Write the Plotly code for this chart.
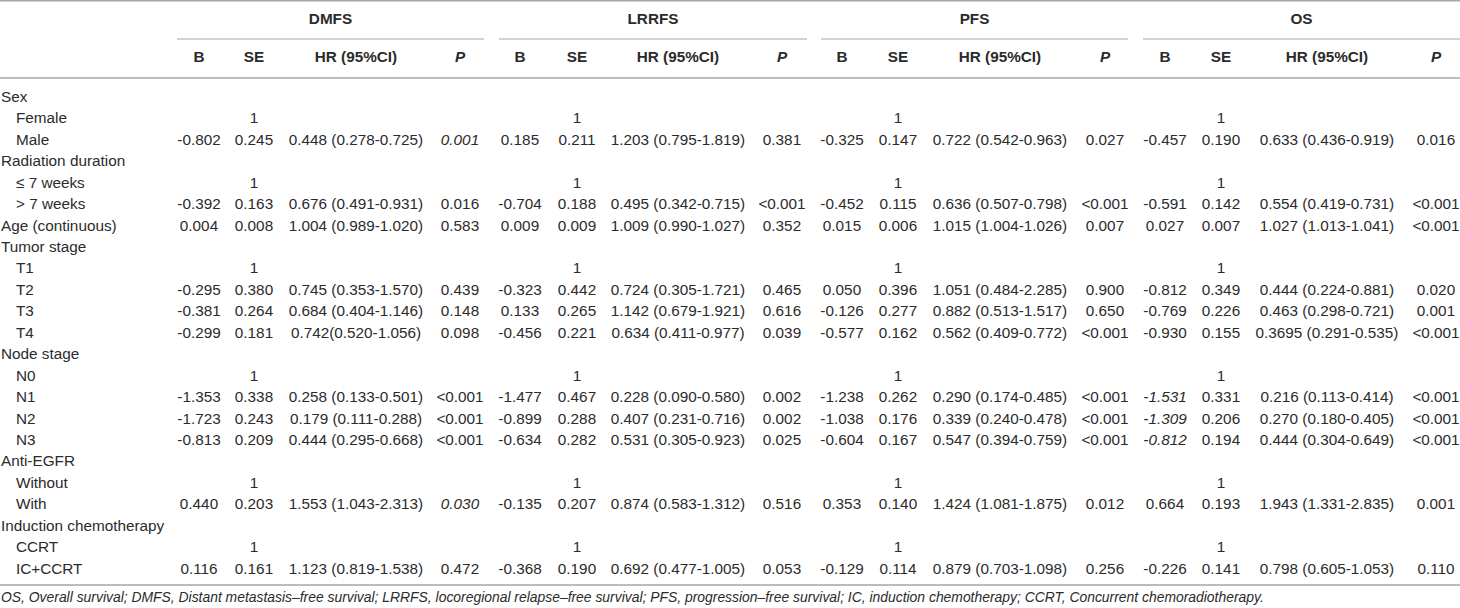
import plotly.graph_objs as go

# Row labels (indent=True for sub-categories)
labels = ['Sex', 'Female', 'Male', 'Radiation duration', '\u2264 7 weeks', '> 7 weeks', 'Age (continuous)',
          'Tumor stage', 'T1', 'T2', 'T3', 'T4', 'Node stage', 'N0', 'N1', 'N2', 'N3',
          'Anti-EGFR', 'Without', 'With', 'Induction chemotherapy', 'CCRT', 'IC+CCRT']
indent = [False, True, True, False, True, True, False,
          False, True, True, True, True, False, True, True, True, True,
          False, True, True, False, True, True]

endpoints = ['DMFS', 'LRRFS', 'PFS', 'OS']
sub_headers = ['B', 'SE', 'HR (95%CI)', '<i>P</i>']

# Rows with values (index into labels); reference rows get "1" in the SE column
value_rows = [2, 5, 6, 9, 10, 11, 14, 15, 16, 19, 22]
ref_rows = [1, 4, 8, 13, 18, 21]

dmfs_b = ['-0.802', '-0.392', '0.004', '-0.295', '-0.381', '-0.299', '-1.353', '-1.723', '-0.813', '0.440', '0.116']
dmfs_se = ['0.245', '0.163', '0.008', '0.380', '0.264', '0.181', '0.338', '0.243', '0.209', '0.203', '0.161']
dmfs_hr = ['0.448 (0.278-0.725)', '0.676 (0.491-0.931)', '1.004 (0.989-1.020)', '0.745 (0.353-1.570)',
           '0.684 (0.404-1.146)', '0.742(0.520-1.056)', '0.258 (0.133-0.501)', '0.179 (0.111-0.288)',
           '0.444 (0.295-0.668)', '1.553 (1.043-2.313)', '1.123 (0.819-1.538)']
dmfs_p = ['<i>0.001</i>', '0.016', '0.583', '0.439', '0.148', '0.098', '<0.001', '<0.001', '<0.001',
          '<i>0.030</i>', '0.472']

lrrfs_b = ['0.185', '-0.704', '0.009', '-0.323', '0.133', '-0.456', '-1.477', '-0.899', '-0.634', '-0.135', '-0.368']
lrrfs_se = ['0.211', '0.188', '0.009', '0.442', '0.265', '0.221', '0.467', '0.288', '0.282', '0.207', '0.190']
lrrfs_hr = ['1.203 (0.795-1.819)', '0.495 (0.342-0.715)', '1.009 (0.990-1.027)', '0.724 (0.305-1.721)',
            '1.142 (0.679-1.921)', '0.634 (0.411-0.977)', '0.228 (0.090-0.580)', '0.407 (0.231-0.716)',
            '0.531 (0.305-0.923)', '0.874 (0.583-1.312)', '0.692 (0.477-1.005)']
lrrfs_p = ['0.381', '<0.001', '0.352', '0.465', '0.616', '0.039', '0.002', '0.002', '0.025', '0.516', '0.053']

pfs_b = ['-0.325', '-0.452', '0.015', '0.050', '-0.126', '-0.577', '-1.238', '-1.038', '-0.604', '0.353', '-0.129']
pfs_se = ['0.147', '0.115', '0.006', '0.396', '0.277', '0.162', '0.262', '0.176', '0.167', '0.140', '0.114']
pfs_hr = ['0.722 (0.542-0.963)', '0.636 (0.507-0.798)', '1.015 (1.004-1.026)', '1.051 (0.484-2.285)',
          '0.882 (0.513-1.517)', '0.562 (0.409-0.772)', '0.290 (0.174-0.485)', '0.339 (0.240-0.478)',
          '0.547 (0.394-0.759)', '1.424 (1.081-1.875)', '0.879 (0.703-1.098)']
pfs_p = ['0.027', '<0.001', '0.007', '0.900', '0.650', '<0.001', '<0.001', '<0.001', '<0.001', '0.012', '0.256']

os_b = ['-0.457', '-0.591', '0.027', '-0.812', '-0.769', '-0.930', '<i>-1.531</i>', '<i>-1.309</i>',
        '<i>-0.812</i>', '0.664', '-0.226']
os_se = ['0.190', '0.142', '0.007', '0.349', '0.226', '0.155', '0.331', '0.206', '0.194', '0.193', '0.141']
os_hr = ['0.633 (0.436-0.919)', '0.554 (0.419-0.731)', '1.027 (1.013-1.041)', '0.444 (0.224-0.881)',
         '0.463 (0.298-0.721)', '0.3695 (0.291-0.535)', '0.216 (0.113-0.414)', '0.270 (0.180-0.405)',
         '0.444 (0.304-0.649)', '1.943 (1.331-2.835)', '0.798 (0.605-1.053)']
os_p = ['0.016', '<0.001', '<0.001', '0.020', '0.001', '<0.001', '<0.001', '<0.001', '<0.001', '0.001', '0.110']

footnote = ('OS, Overall survival; DMFS, Distant metastasis\u2013free survival; LRRFS, locoregional relapse\u2013free '
            'survival; PFS, progression\u2013free survival; IC, induction chemotherapy; CCRT, Concurrent '
            'chemoradiotherapy.')

columns = {
    'DMFS': [dmfs_b, dmfs_se, dmfs_hr, dmfs_p],
    'LRRFS': [lrrfs_b, lrrfs_se, lrrfs_hr, lrrfs_p],
    'PFS': [pfs_b, pfs_se, pfs_hr, pfs_p],
    'OS': [os_b, os_se, os_hr, os_p],
}

# Layout (pixel units)
W, H = 1460, 608
row0, row_step = 98, 21.45
col_x = {'DMFS': [199, 254, 356, 460], 'LRRFS': [520, 577, 678, 782],
         'PFS': [842, 898, 1000, 1105], 'OS': [1165, 1221, 1327, 1436]}
group_span = {'DMFS': (177, 484), 'LRRFS': (499, 807), 'PFS': (821, 1128), 'OS': (1143, 1460)}
y_group, y_sub = 20, 58
font_family = 'Liberation Sans, Arial, sans-serif'
txt_color = '#2b2b2b'
line_color = '#a6a6a6'
fs = 15.3


def row_y(i):
    return row0 + i * row_step


data = []

# Row labels
for flag, xpos in [(False, 1), (True, 16)]:
    idx = [i for i in range(len(labels)) if indent[i] == flag]
    data.append(go.Scatter(x=[xpos] * len(idx), y=[row_y(i) for i in idx], text=[labels[i] for i in idx],
                           mode='text', textposition='middle right', hoverinfo='skip',
                           textfont=dict(family=font_family, size=fs, color=txt_color)))

for ep in endpoints:
    xs = col_x[ep]
    # group header
    data.append(go.Scatter(x=[sum(group_span[ep]) / 2], y=[y_group], text=['<b>%s</b>' % ep], mode='text',
                           hoverinfo='skip', textfont=dict(family=font_family, size=fs, color=txt_color)))
    # sub headers
    data.append(go.Scatter(x=xs, y=[y_sub] * 4, text=['<b>%s</b>' % s for s in sub_headers], mode='text',
                           hoverinfo='skip', textfont=dict(family=font_family, size=fs, color=txt_color)))
    # reference "1"
    data.append(go.Scatter(x=[xs[1]] * len(ref_rows), y=[row_y(i) for i in ref_rows], text=['1'] * len(ref_rows),
                           mode='text', hoverinfo='skip',
                           textfont=dict(family=font_family, size=fs, color=txt_color)))
    # values
    for k, vals in enumerate(columns[ep]):
        data.append(go.Scatter(x=[xs[k]] * len(vals), y=[row_y(i) for i in value_rows], text=vals,
                               mode='text', hoverinfo='skip',
                               textfont=dict(family=font_family, size=fs, color=txt_color)))

# footnote
data.append(go.Scatter(x=[1], y=[599], text=['<i>%s</i>' % footnote], mode='text', textposition='middle right',
                       hoverinfo='skip', textfont=dict(family=font_family, size=13.9, color=txt_color)))

shapes = [
    dict(type='line', x0=0, x1=W, y0=0.8, y1=0.8, line=dict(color=line_color, width=1.5)),
    dict(type='line', x0=0, x1=W, y0=78, y1=78, line=dict(color=line_color, width=1.5)),
    dict(type='line', x0=0, x1=W, y0=585, y1=585, line=dict(color=line_color, width=1.5)),
]
for ep in endpoints:
    x0, x1 = group_span[ep]
    shapes.append(dict(type='line', x0=x0, x1=x1, y0=39, y1=39, line=dict(color=line_color, width=1.2)))

fig = go.Figure(data=data)
fig.update_layout(width=W, height=H, margin=dict(l=0, r=0, t=0, b=0), showlegend=False,
                  paper_bgcolor='white', plot_bgcolor='white', shapes=shapes,
                  xaxis=dict(range=[0, W], visible=False, fixedrange=True),
                  yaxis=dict(range=[H, 0], visible=False, fixedrange=True))

fig.write_html("out.html", config={'displayModeBar': False},
               post_script="document.body.style.margin='0';document.body.style.overflow='hidden';")
